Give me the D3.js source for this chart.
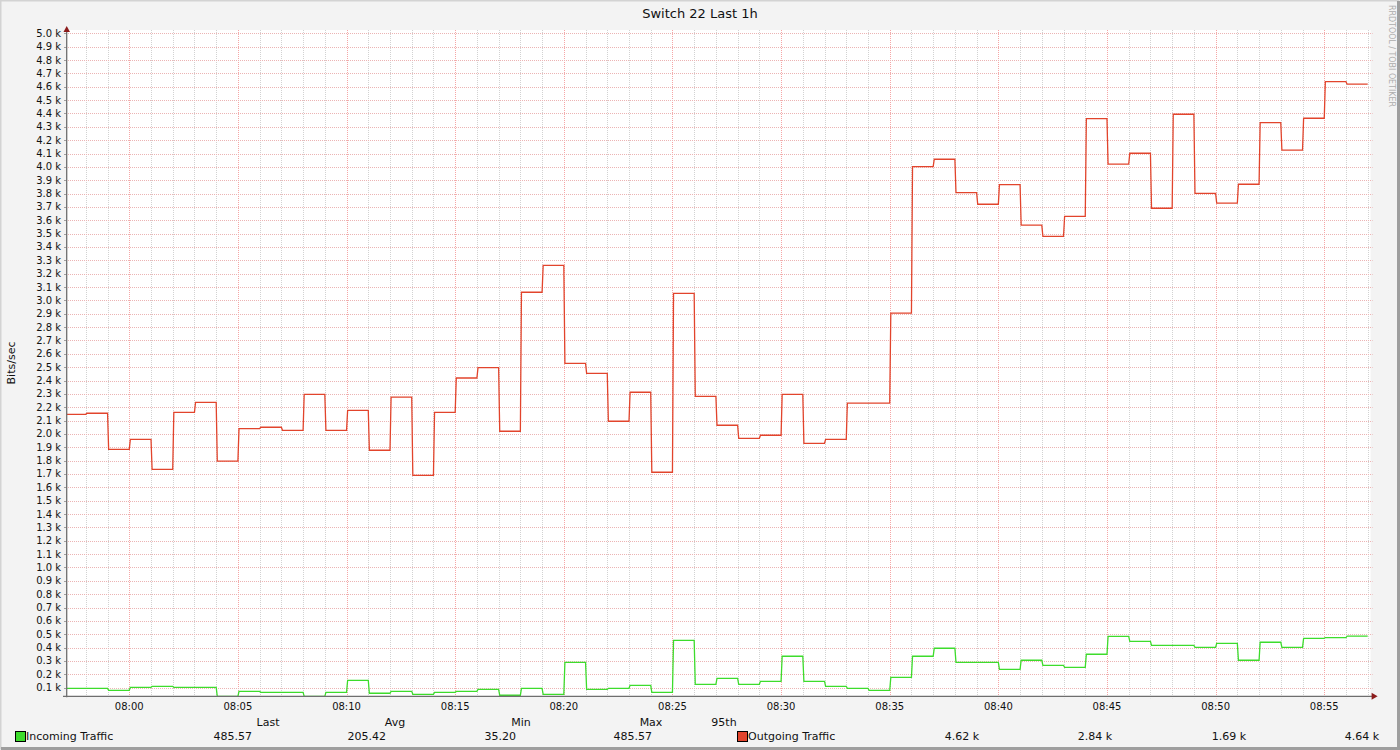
<!DOCTYPE html>
<html><head><meta charset="utf-8">
<script src="https://cdn.jsdelivr.net/npm/d3@7"></script>
<style>html,body{margin:0;padding:0;background:#f3f3f3;overflow:hidden}svg{display:block}</style>
</head><body><svg id="c" width="1400" height="750"></svg>
<script>
// ---------------- data ----------------
const chartTitle = "Switch 22 Last 1h";
const yAxisLabel = "Bits/sec";
const watermark = "RRDTOOL / TOBI OETIKER";
const firstBucket = "07:57";            // start of first one-minute bucket
const windowStart = "07:57:08";         // left edge of the graph
const windowEnd = "08:57:08";           // right edge of the graph
const incoming = [95,95,80,102,110,102,102,35.2,72,65,65,35.2,65,155,58,72,50,65,72,87,43,95,50,290,87,95,117,65,454,125,170,125,147,335,147,110,95,80,177,335,395,290,290,237,305,267,252,350,484,447,417,417,402,432,305,440,402,469,475,485.57];
const outgoing = [2147,2155,1885,1960,1735,2162,2237,1797,2040,2050,2027,2297,2027,2177,1878,2275,1690,2162,2419,2497,2020,3061,3263,2529,2454,2095,2312,1713,3053,2282,2065,1967,1990,2297,1930,1960,2230,2230,2904,4002,4057,3807,3720,3867,3563,3480,3630,4361,4020,4102,3690,4394,3802,3728,3870,4331,4125,4364,4638,4619];
const yMin = 35.2, yMax = 5025;
const yTickValues = [100,200,300,400,500,600,700,800,900,1000,1100,1200,1300,1400,1500,1600,1700,1800,1900,2000,2100,2200,2300,2400,2500,2600,2700,2800,2900,3000,3100,3200,3300,3400,3500,3600,3700,3800,3900,4000,4100,4200,4300,4400,4500,4600,4700,4800,4900,5000];
const xTickLabels = ["08:00","08:05","08:10","08:15","08:20","08:25","08:30","08:35","08:40","08:45","08:50","08:55"];
const legendHeaders = ["Last","Avg","Min","Max","95th"];
const seriesNames = ["Incoming Traffic","Outgoing Traffic"];
const incomingStats = ["485.57","205.42","35.20","485.57"];
const outgoingStats = ["4.62 k","2.84 k","1.69 k","4.64 k"];
const colIn = "#3ddc2c", colOut = "#e2442c";

// ---------------- layout ----------------
const L = 67, R = 1370.6, T = 30, B = 696.3;
const day = "2024-01-01T";
const parse = s => new Date(day + (s.length === 5 ? s + ":00" : s));
const t0 = parse(windowStart), t1 = parse(windowEnd);
const x = d3.scaleTime().domain([t0, t1]).range([L, R]);
const y = d3.scaleLinear().domain([yMin, yMax]).range([B, T]);

const svg = d3.select("#c");
const font = "DejaVu Sans, sans-serif";

// background + frame
svg.append("rect").attr("x",0).attr("y",0).attr("width",1400).attr("height",750).attr("fill","#f3f3f3");
svg.append("path").attr("d","M0.5,749.5 V0.5 H1399.5").attr("stroke","#d3d3d3").attr("stroke-width",2).attr("fill","none");
svg.append("path").attr("d","M1,748.5 H1398.5 V1").attr("stroke","#9e9e9e").attr("stroke-width",3).attr("fill","none");

// plot area
svg.append("rect").attr("x",L).attr("y",T).attr("width",R-L).attr("height",B-T).attr("fill","#ffffff");

// bucket times
const b0 = parse(firstBucket);
const times = incoming.map((_, i) => d3.timeMinute.offset(b0, i));
const endT = d3.timeMinute.offset(b0, incoming.length);

// grid
const minutes = d3.timeMinute.range(d3.timeMinute.ceil(t0), t1);
const g = svg.append("g");
minutes.forEach(m => {
  const major = m.getMinutes() % 5 === 0;
  const xx = Math.round(x(m)) + 0.5;
  g.append("line").attr("x1",xx).attr("x2",xx).attr("y1",T).attr("y2",B + 2)
    .attr("stroke", major ? "#f6a6a6" : "#d2d2d2").attr("stroke-dasharray","1,1").attr("stroke-width",1);
});
yTickValues.forEach(v => {
  const yy = Math.round(y(v)) + 0.5;
  g.append("line").attr("x1",L-3).attr("x2",R+2).attr("y1",yy).attr("y2",yy)
    .attr("stroke","#ecb4b4").attr("stroke-dasharray","1,1").attr("stroke-width",1);
  g.append("line").attr("x1",L-3).attr("x2",L).attr("y1",yy).attr("y2",yy).attr("stroke","#a0a0a0");
});

// lines (step with ~1px slanted risers, as rrdtool draws them)
svg.append("clipPath").attr("id","pc").append("rect").attr("x",L).attr("y",T-2).attr("width",R-L).attr("height",B-T+3);
const line = d3.line().x(d => x(d[0])).y(d => y(d[1]));
function series(vals, col){
  const pts = [[times[0], vals[0]]];
  for (let i = 1; i < vals.length; i++) {
    pts.push([times[i], vals[i-1]]);
    pts.push([d3.timeSecond.offset(times[i], 3), vals[i]]);
  }
  pts.push([endT, vals[vals.length-1]]);
  svg.append("path").attr("d", line(pts)).attr("fill","none").attr("stroke",col)
    .attr("stroke-width",1.3).attr("clip-path","url(#pc)");
}
series(incoming, colIn);
series(outgoing, colOut);

// axes
svg.append("line").attr("x1",L-0.3).attr("x2",L-0.3).attr("y1",T-2).attr("y2",B+1).attr("stroke","#6e6e6e").attr("stroke-width",1.3);
svg.append("line").attr("x1",L-4).attr("x2",R+2).attr("y1",B).attr("y2",B).attr("stroke","#6e6e6e").attr("stroke-width",1.3);
svg.append("path").attr("d",`M${L-3.5},${T+2} L${L+3},${T+2} L${L-0.3},${T-4} Z`).attr("fill","#8c1c1c");
svg.append("path").attr("d",`M${R+1},${B-3.5} L${R+1},${B+3.5} L${R+7},${B} Z`).attr("fill","#8c1c1c");

// y tick labels
yTickValues.forEach(v => {
  svg.append("text").attr("x",L-6).attr("y",y(v)).attr("dy","0.35em").attr("text-anchor","end")
    .attr("font-family",font).attr("font-size",10).attr("fill","#111")
    .text(d3.format(".1f")(v/1000) + " k");
});
// x tick labels
xTickLabels.forEach(s => {
  svg.append("text").attr("x",x(parse(s))).attr("y",710).attr("text-anchor","middle")
    .attr("font-family",font).attr("font-size",10).attr("fill","#111").text(s);
});

// title, y label, watermark
svg.append("text").attr("x",700).attr("y",18).attr("text-anchor","middle").attr("font-family",font)
  .attr("font-size",13).attr("fill","#111").text(chartTitle);
svg.append("text").attr("transform","translate(15,363) rotate(-90)").attr("text-anchor","middle")
  .attr("font-family",font).attr("font-size",11).attr("fill","#111").text(yAxisLabel);
svg.append("text").attr("transform","translate(1388.5,5) rotate(90)").attr("text-anchor","start")
  .attr("font-family",font).attr("font-size",8.2).attr("fill","#adadad")
  .attr("textLength",102).attr("lengthAdjust","spacingAndGlyphs").text(watermark);

// legend
const headX = [268,395,521,651,724];
legendHeaders.forEach((h,i) => {
  svg.append("text").attr("x",headX[i]).attr("y",726).attr("text-anchor","middle")
    .attr("font-family",font).attr("font-size",11).attr("fill","#111").text(h);
});
function legendItem(bx, name, col){
  svg.append("rect").attr("x",bx+0.5).attr("y",731.5).attr("width",10).attr("height",10)
    .attr("fill",col).attr("stroke","#000").attr("stroke-width",1);
  svg.append("text").attr("x",bx+11).attr("y",740).attr("font-family",font).attr("font-size",11)
    .attr("fill","#111").text(name);
}
legendItem(15, seriesNames[0], colIn);
legendItem(737, seriesNames[1], colOut);
const inX = [252,386,516,652], outX = [979,1112,1246,1379];
incomingStats.forEach((s,i) => svg.append("text").attr("x",inX[i]).attr("y",740).attr("text-anchor","end")
  .attr("font-family",font).attr("font-size",11).attr("fill","#111").text(s));
outgoingStats.forEach((s,i) => svg.append("text").attr("x",outX[i]).attr("y",740).attr("text-anchor","end")
  .attr("font-family",font).attr("font-size",11).attr("fill","#111").text(s));
</script></body></html>
